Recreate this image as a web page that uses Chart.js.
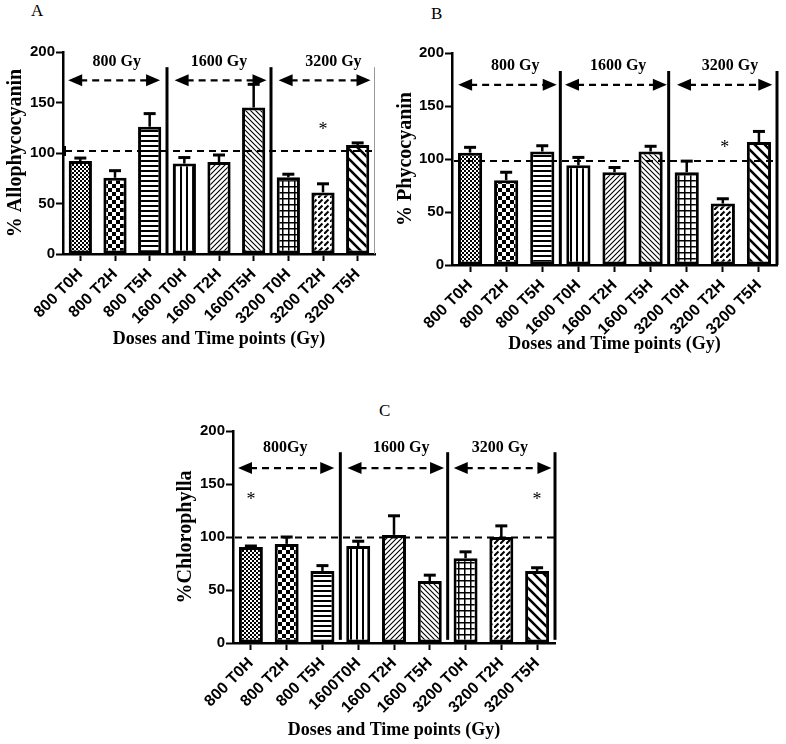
<!DOCTYPE html>
<html>
<head>
<meta charset="utf-8">
<script src="https://cdn.jsdelivr.net/npm/chart.js@4.4.0/dist/chart.umd.min.js"></script>
<style>
  html, body { margin: 0; padding: 0; background: #fff; }
  #fig { position: relative; width: 786px; height: 744px; background: #fff; overflow: hidden; }
  #fig canvas { position: absolute; }
  .panel { position: absolute; font: 17px "Liberation Serif", "Times New Roman", serif; color: #000; }
</style>
</head>
<body>
<div id="fig">
  <div class="panel" style="left:31px;top:1px">A</div>
  <div class="panel" style="left:431px;top:4px">B</div>
  <div class="panel" style="left:379px;top:401px">C</div>
  <canvas id="chartA" width="390" height="360" style="left:0;top:0"></canvas>
  <canvas id="chartB" width="396" height="360" style="left:390px;top:0"></canvas>
  <canvas id="chartC" width="400" height="374" style="left:170px;top:370px"></canvas>
</div>
<script>
/* ---- data ---- */
const labelsA = ["800 T0H", "800 T2H", "800 T5H", "1600 T0H", "1600 T2H", "1600T5H", "3200 T0H", "3200 T2H", "3200 T5H"];
const labelsB = ["800 T0H", "800 T2H", "800 T5H", "1600 T0H", "1600 T2H", "1600 T5H", "3200 T0H", "3200 T2H", "3200 T5H"];
const labelsC = ["800 T0H", "800 T2H", "800 T5H", "1600T0H", "1600 T2H", "1600 T5H", "3200 T0H", "3200 T2H", "3200 T5H"];

const allophycocyanin    = [92, 75.5, 126, 89.5, 91, 145, 76, 61, 108];
const allophycocyaninErr = [3, 7, 13, 6, 7, 23, 3, 8.5, 2];
const phycocyanin        = [106, 80, 107, 94, 87.5, 107, 87.5, 58, 116];
const phycocyaninErr     = [5, 7.5, 5.5, 7.5, 4.5, 5, 10.5, 4.5, 10];
const chlorophylla       = [90.5, 93.5, 68, 91.5, 102, 58.5, 80, 100, 68];
const chlorophyllaErr    = [1, 6.5, 5, 4.5, 18, 5.5, 6, 10.5, 3];

const controlA = 102, controlB = 98, controlC = 99.5;   // dashed 100 % reference
const groupsA = ["800 Gy", "1600 Gy", "3200 Gy"];
const groupsB = ["800 Gy", "1600 Gy", "3200 Gy"];
const groupsC = ["800Gy", "1600 Gy", "3200 Gy"];
const yTicks = [0, 50, 100, 150, 200];

/* ---- hatch fills, one per time point ---- */
function tile(size, draw) {
  const c = document.createElement("canvas");
  c.width = size; c.height = size;
  const g = c.getContext("2d");
  g.fillStyle = "#fff"; g.fillRect(0, 0, size, size);
  g.fillStyle = "#000"; g.strokeStyle = "#000";
  draw(g, size);
  return g.createPattern(c, "repeat");
}
function diag(g, s, w, fwd) {
  g.lineWidth = w; g.beginPath();
  if (fwd) {
    g.moveTo(0, s); g.lineTo(s, 0);
    g.moveTo(-1, 1); g.lineTo(1, -1);
    g.moveTo(s - 1, s + 1); g.lineTo(s + 1, s - 1);
  } else {
    g.moveTo(0, 0); g.lineTo(s, s);
    g.moveTo(-1, s - 1); g.lineTo(1, s + 1);
    g.moveTo(s - 1, -1); g.lineTo(s + 1, 1);
  }
  g.stroke();
}
const fills = [
  tile(4, g => { g.fillRect(0, 0, 2, 2); g.fillRect(2, 2, 2, 2); }),
  tile(8, g => { g.fillRect(0, 0, 4, 4); g.fillRect(4, 4, 4, 4); }),
  tile(5, g => g.fillRect(0, 0, 5, 2)),
  tile(6, g => g.fillRect(0, 0, 2, 6)),
  tile(5, (g, s) => diag(g, s, 1.1, true)),
  tile(5, (g, s) => diag(g, s, 1.1, false)),
  tile(6, g => { g.fillRect(0, 0, 6, 1.5); g.fillRect(0, 0, 1.5, 6); }),
  tile(6, (g, s) => { g.lineWidth = 2; g.beginPath(); g.moveTo(-0.5, 6.5); g.lineTo(4.5, 1.5); g.stroke(); }),
  tile(10, (g, s) => diag(g, s, 2.6, false))
];

/* ---- annotations: error bars, 100 % line, dose separators, arrows ---- */
const doseMarks = {
  id: "doseMarks",
  afterDatasetsDraw(chart, args, o) {
    const { ctx, chartArea: ca, scales: { x, y } } = chart;
    const vals = chart.data.datasets[0].data;
    const meta = chart.getDatasetMeta(0);
    ctx.save();
    ctx.strokeStyle = "#000"; ctx.fillStyle = "#000";

    // error bars (upper only, capped)
    o.err.forEach((e, i) => {
      const bx = meta.data[i].x;
      const y0 = y.getPixelForValue(vals[i]), y1 = y.getPixelForValue(vals[i] + e);
      ctx.lineWidth = 2.5;
      ctx.beginPath(); ctx.moveTo(bx, y0); ctx.lineTo(bx, y1); ctx.stroke();
      ctx.lineWidth = 3;
      ctx.beginPath(); ctx.moveTo(bx - 6, y1); ctx.lineTo(bx + 6, y1); ctx.stroke();
    });

    // dashed control line
    const yc = y.getPixelForValue(o.control);
    ctx.lineWidth = 2; ctx.setLineDash([7, 5]);
    ctx.beginPath(); ctx.moveTo(ca.left + 2, yc); ctx.lineTo(ca.right, yc); ctx.stroke();
    ctx.setLineDash([]);
    if (o.stub) { ctx.beginPath(); ctx.moveTo(ca.left + 2, yc - 5); ctx.lineTo(ca.left + 2, yc + 5); ctx.stroke(); }

    // separators between dose groups
    o.seps.forEach(s => {
      const sx = x.getPixelForValue(s);
      ctx.lineWidth = 3;
      ctx.beginPath(); ctx.moveTo(sx, y.getPixelForValue(o.sepTop)); ctx.lineTo(sx, y.getPixelForValue(o.sepBottom)); ctx.stroke();
    });
    if (o.thinEnd) {
      ctx.lineWidth = 1; ctx.strokeStyle = "#999";
      ctx.beginPath(); ctx.moveTo(ca.right - 0.5, y.getPixelForValue(o.sepTop)); ctx.lineTo(ca.right - 0.5, ca.bottom); ctx.stroke();
      ctx.strokeStyle = "#000";
    }

    // double-headed dashed arrows with dose labels
    const ay = y.getPixelForValue(o.arrowY);
    o.arrows.forEach(([a, b]) => {
      const xa = x.getPixelForValue(a), xb = x.getPixelForValue(b);
      ctx.lineWidth = 2.2; ctx.setLineDash([7, 5]);
      ctx.beginPath(); ctx.moveTo(xa + 12, ay); ctx.lineTo(xb - 12, ay); ctx.stroke();
      ctx.setLineDash([]);
      ctx.beginPath(); ctx.moveTo(xa, ay); ctx.lineTo(xa + 14, ay - 6); ctx.lineTo(xa + 14, ay + 6); ctx.closePath(); ctx.fill();
      ctx.beginPath(); ctx.moveTo(xb, ay); ctx.lineTo(xb - 14, ay - 6); ctx.lineTo(xb - 14, ay + 6); ctx.closePath(); ctx.fill();
    });
    ctx.font = "bold 16px 'Liberation Serif', serif";
    ctx.textAlign = "center"; ctx.textBaseline = "middle";
    o.groups.forEach((t, i) => ctx.fillText(t, x.getPixelForValue(o.groupX[i]), y.getPixelForValue(o.labelY)));

    // significance marks
    ctx.font = "18px 'Liberation Serif', serif";
    o.stars.forEach(([i, v]) => ctx.fillText("*", x.getPixelForValue(i), y.getPixelForValue(v) + 4));
    ctx.restore();
  }
};

function panel(id, labels, values, opts) {
  return new Chart(document.getElementById(id), {
    type: "bar",
    data: {
      labels,
      datasets: [{
        data: values,
        backgroundColor: c => fills[c.dataIndex],
        borderColor: "#000", borderWidth: 3, borderSkipped: false,
        categoryPercentage: 1, barPercentage: 0.67
      }]
    },
    options: {
      responsive: false, animation: false, devicePixelRatio: 1,
      layout: { padding: opts.pad },
      plugins: { legend: { display: false }, tooltip: { enabled: false }, doseMarks: opts.marks },
      scales: {
        x: {
          offset: true,
          afterFit: s => { s.height = opts.xh; },
          border: { color: "#000", width: 2.5 },
          grid: { offset: false, drawOnChartArea: false, drawTicks: true, tickLength: 7, tickColor: "#000", tickWidth: 2 },
          ticks: { autoSkip: false, maxRotation: 45, minRotation: 45, color: "#000", padding: 4,
                   font: { family: "Arial, 'Liberation Sans', sans-serif", weight: "bold", size: 16 } },
          title: { display: true, text: "Doses and Time points (Gy)", color: "#000", padding: { top: 0, bottom: 0 },
                   font: { family: "'Liberation Serif', serif", weight: "bold", size: 18 } }
        },
        y: {
          min: 0, max: 200,
          afterFit: s => { s.width = opts.yw; },
          afterBuildTicks: s => { s.ticks = yTicks.map(v => ({ value: v })); },
          border: { color: "#000", width: 2.5 },
          grid: { drawOnChartArea: false, drawTicks: true, tickLength: 7, tickColor: "#000", tickWidth: 2 },
          ticks: { color: "#000", padding: 1,
                   font: { family: "Arial, 'Liberation Sans', sans-serif", weight: "bold", size: 15 } },
          title: { display: true, text: opts.ytitle, color: "#000", padding: { top: 4, bottom: 0 },
                   font: { family: "'Liberation Serif', serif", weight: "bold", size: 20 } }
        }
      }
    },
    plugins: [doseMarks]
  });
}

panel("chartA", labelsA, allophycocyanin, {
  pad: { left: 0, top: 52, right: 15, bottom: 10 }, xh: 96, yw: 63, ytitle: "% Allophycocyanin",
  marks: { err: allophycocyaninErr, control: controlA, stub: true, seps: [2.5, 5.5], sepTop: 185, sepBottom: 0,
           thinEnd: true, arrowY: 172, arrows: [[-0.35, 2.3], [2.72, 5.37], [5.72, 8.37]],
           groups: groupsA, groupX: [1.05, 4.0, 7.3], labelY: 190, stars: [[7, 126]] }
});

panel("chartB", labelsB, phycocyanin, {
  pad: { left: 0, top: 53, right: 9, bottom: 5 }, xh: 90, yw: 62, ytitle: "% Phycocyanin",
  marks: { err: phycocyaninErr, control: controlB, stub: false, seps: [2.5, 5.5, 8.5], sepTop: 183, sepBottom: 0,
           thinEnd: false, arrowY: 170, arrows: [[-0.33, 2.4], [2.63, 5.45], [5.73, 8.37]],
           groups: groupsB, groupX: [1.25, 4.1, 7.2], labelY: 188, stars: [[7.05, 114]] }
});

panel("chartC", labelsC, chlorophylla, {
  pad: { left: 0, top: 61, right: 15, bottom: 3 }, xh: 98, yw: 63, ytitle: "%Chlorophylla",
  marks: { err: chlorophyllaErr, control: controlC, stub: false, seps: [2.5, 5.5, 8.5], sepTop: 180, sepBottom: 3,
           thinEnd: false, arrowY: 165, arrows: [[-0.36, 2.33], [2.7, 5.4], [5.67, 8.4]],
           groups: groupsC, groupX: [0.96, 4.2, 6.96], labelY: 184, stars: [[0, 138], [8, 138]] }
});
</script>
</body>
</html>
